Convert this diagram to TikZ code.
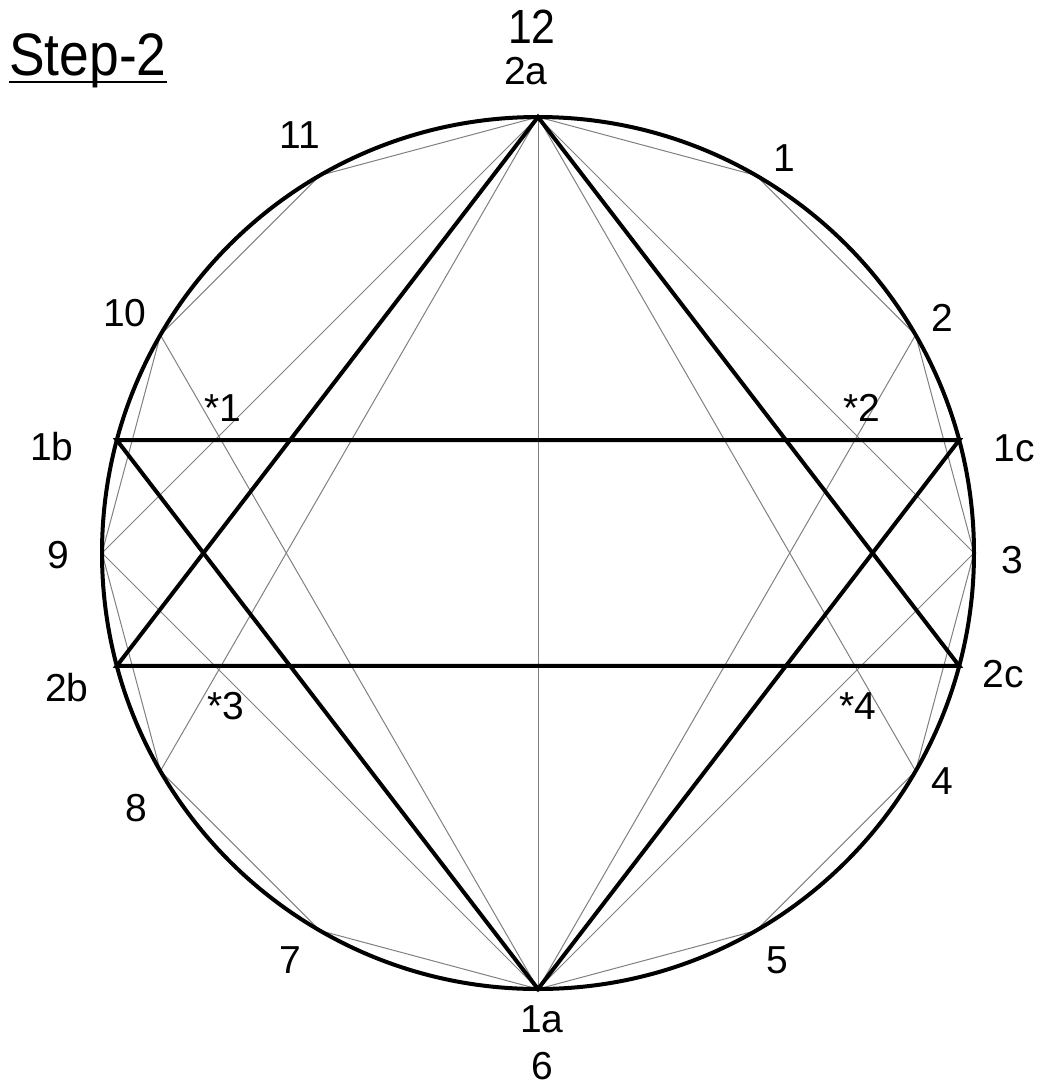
\documentclass[tikz,border=0pt]{standalone}
\usepackage{fontspec}
\setmainfont{Liberation Sans}
\newfontfamily\narrowfont[FakeStretch=0.89]{Liberation Sans}
\usetikzlibrary{calc}
\tikzset{
  guide/.style={line width=1pt, black!50},
  heavy/.style={line width=4pt},
  lbl/.style={inner sep=0pt, font=\fontsize{39}{46}\selectfont},
  tall/.style={inner sep=0pt, font=\narrowfont\fontsize{48}{56}\selectfont},
}
\begin{document}
\begin{tikzpicture}[x=1pt, y=1pt]
    \useasboundingbox (0,0) rectangle (1043,-1088);
    % Title
    \node[tall, font=\narrowfont\fontsize{60}{70}\selectfont, anchor=base west] (title) at (9,-75) {Step-2};
    \draw[line width=2.6pt] ([yshift=-7pt]title.base west) -- ([yshift=-7pt]title.base east);
    % Centre and clock points
    \coordinate (o) at (538,-553);
    \foreach \h in {1,...,12}
        \coordinate (h\h) at ($(o)+({90-30*\h}:436)$);
    \coordinate (p1b) at ($(o)+(165:436)$);
    \coordinate (p1c) at ($(o)+(15:436)$);
    \coordinate (p2b) at ($(o)+(195:436)$);
    \coordinate (p2c) at ($(o)+(-15:436)$);
    % Thin construction lines
    \draw[guide] (h12) \foreach \h in {1,...,11} {-- (h\h)} -- cycle;
    \draw[guide] (h12) -- (h6);
    \draw[guide] (h12) -- (h3) -- (h6) -- (h9) -- cycle;
    \draw[guide] (h12) -- (h4);
    \draw[guide] (h12) -- (h8);
    \draw[guide] (h6) -- (h2);
    \draw[guide] (h6) -- (h10);
    % Circle
    \draw[heavy] (o) circle (436);
    % Triangles
    \draw[heavy] (h6) -- (p1b) -- (p1c) -- cycle;
    \draw[heavy] (h12) -- (p2b) -- (p2c) -- cycle;
    % Clock numbers
    \node[tall] (n12) at (532,-27) {12};
    \node[lbl] (n1) at (784,-158) {1};
    \node[lbl] (n2) at (942,-318) {2};
    \node[lbl] (n3) at (1012,-560) {3};
    \node[lbl] (n4) at (942,-781) {4};
    \node[lbl] (n5) at (777,-960) {5};
    \node[lbl] (n6) at (542,-1066) {6};
    \node[lbl] (n7) at (290,-960) {7};
    \node[lbl] (n8) at (136,-808) {8};
    \node[lbl] (n9) at (58,-555) {9};
    \node[lbl] (n10) at (125,-313) {10};
    \node[lbl] (n11) at (300,-135) {11};
    % Triangle corners
    \node[lbl] (n2a) at (526,-71) {2a};
    \node[lbl] (n1a) at (542,-1019) {1a};
    \node[lbl] (n1b) at (52,-447) {1b};
    \node[lbl] (n1c) at (1014,-448) {1c};
    \node[lbl] (n2b) at (67,-688) {2b};
    \node[lbl] (n2c) at (1003,-674) {2c};
    % Crossing marks
    \node[lbl] (s1) at (223,-408) {*1};
    \node[lbl] (s2) at (862,-408) {*2};
    \node[lbl] (s3) at (226,-706) {*3};
    \node[lbl] (s4) at (858,-706) {*4};
\end{tikzpicture}
\end{document}
